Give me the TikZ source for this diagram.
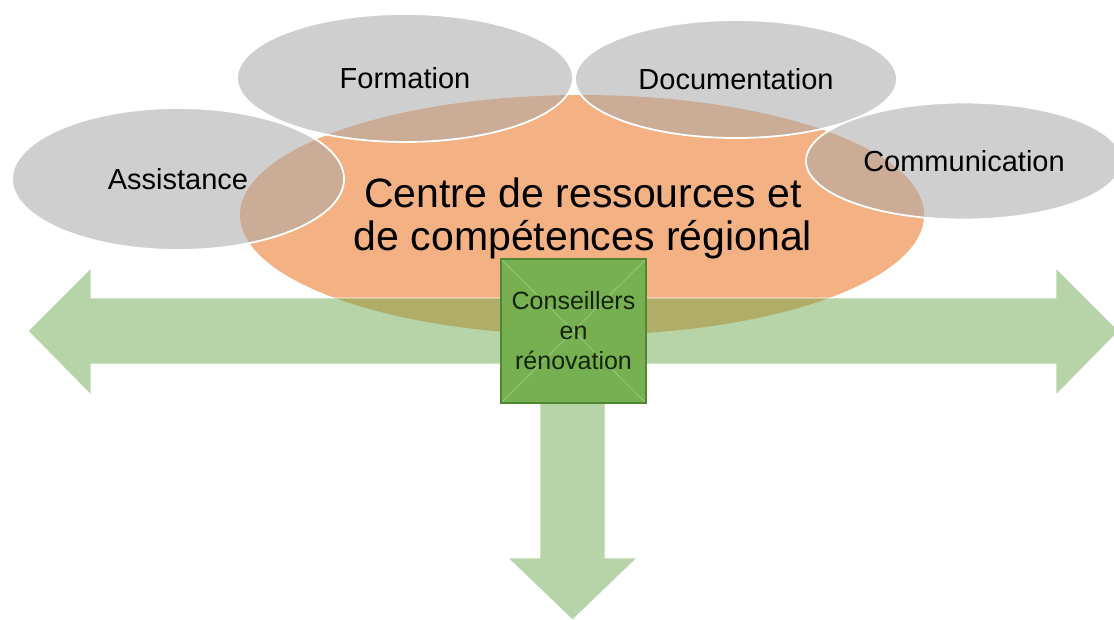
\documentclass[tikz,border=0pt]{standalone}
\usepackage{fontspec}
\setmainfont{Liberation Sans}
\usetikzlibrary{shapes.geometric}
\definecolor{grayfill}{RGB}{168,168,168}
\definecolor{orangefill}{RGB}{244,177,131}
\definecolor{arrowgreen}{RGB}{110,170,80}
\definecolor{boxgreen}{RGB}{118,176,80}
\definecolor{boxline}{RGB}{80,135,50}
\definecolor{boxdiag}{RGB}{152,202,124}
\definecolor{boxtext}{RGB}{20,35,10}
\tikzset{
  bubble/.style={ellipse, draw=white, line width=1.8pt, fill=grayfill,
    fill opacity=0.54, text opacity=1, inner sep=0pt,
    font=\fontsize{29}{34}\selectfont},
  core/.style={ellipse, fill=orangefill, inner sep=0pt},
  coretext/.style={align=center, inner sep=0pt, font=\fontsize{41}{43}\selectfont},
  bigarrow/.style={fill=arrowgreen, fill opacity=0.5, draw=white, line width=0.8pt},
  advisor/.style={rectangle, fill=boxgreen, draw=boxline, line width=1.5pt,
    align=center, inner sep=0pt, text=boxtext,
    font=\fontsize{25}{30}\selectfont,
    path picture={\draw[boxdiag, line width=0.8pt]
      (path picture bounding box.north west) -- (path picture bounding box.south east)
      (path picture bounding box.north east) -- (path picture bounding box.south west);}}
}
\begin{document}
\begin{tikzpicture}[x=1pt,y=-1pt]
\useasboundingbox[fill=white] (0,0) rectangle (1114,619);
% central resource centre
\node[core, minimum width=684pt, minimum height=240pt] (core) at (582,215) {};
% surrounding services
\node[bubble, minimum width=336pt, minimum height=128pt] (formation) at (405,78) {Formation};
\node[bubble, minimum width=322pt, minimum height=118pt] (documentation) at (736,79) {Documentation};
\node[bubble, minimum width=332pt, minimum height=142pt] (assistance) at (178,179) {Assistance};
\node[bubble, minimum width=316pt, minimum height=117pt] (communication) at (964,161) {Communication};
% central text
\node[coretext] (coretitle) at (583,218) {Centre de ressources et\\de compétences régional};
% horizontal double arrow
\path[bigarrow] (28,331) -- (91,268) -- (91,298) -- (1056,298) -- (1056,268)
  -- (1119,331) -- (1056,395) -- (1056,364) -- (91,364) -- (91,395) -- cycle;
% downward arrow
\path[bigarrow] (540,380) -- (605,380) -- (605,558) -- (637,558) -- (572.5,620)
  -- (508,558) -- (540,558) -- cycle;
% advisors box
\node[advisor, minimum width=145pt, minimum height=144pt] (advisor) at (573.5,331)
  {Conseillers\\en\\rénovation};
\end{tikzpicture}
\end{document}
